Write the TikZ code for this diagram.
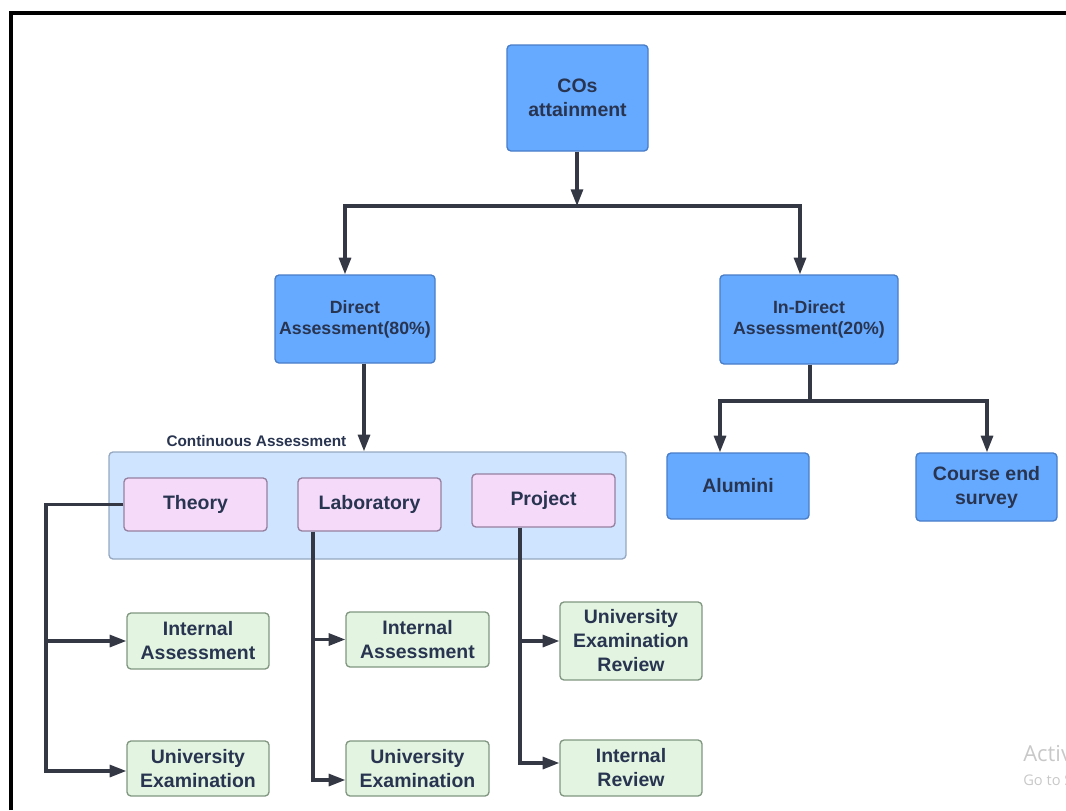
\documentclass[tikz,border=0pt]{standalone}
\usepackage{fontspec}
\setmainfont{Liberation Sans}
\newfontfamily\wmfont{Open Sans}
\usetikzlibrary{arrows.meta,calc}

\definecolor{txt}{RGB}{40,52,80}
\definecolor{wire}{RGB}{52,56,68}
\definecolor{bluefill}{RGB}{102,170,255}
\definecolor{blueedge}{RGB}{72,125,200}
\definecolor{contfill}{RGB}{207,228,255}
\definecolor{contedge}{RGB}{150,168,192}
\definecolor{pinkfill}{RGB}{245,218,250}
\definecolor{pinkedge}{RGB}{150,128,160}
\definecolor{greenfill}{RGB}{227,245,225}
\definecolor{greenedge}{RGB}{128,150,128}
\definecolor{wmgray}{RGB}{200,200,200}

\tikzset{
  box/.style={rectangle, rounded corners=3pt, line width=1pt, inner sep=0pt,
              align=center, text=txt},
  wh/.style 2 args={minimum width=#1*0.75pt, minimum height=#2*0.75pt},
  bigtext/.style={font=\bfseries\fontsize{14.6}{18}\selectfont},
  midtext/.style={font=\bfseries\fontsize{13.3}{15.8}\selectfont},
  bluebox/.style={box, draw=blueedge, fill=bluefill},
  pinkbox/.style={box, bigtext, draw=pinkedge, fill=pinkfill},
  greenbox/.style={box, bigtext, draw=greenedge, fill=greenfill},
  contbox/.style={box, draw=contedge, fill=contfill},
  wireline/.style={draw=wire, line width=2.3pt, line join=miter},
  arr/.style={wireline, -{Triangle[length=12.5pt,width=9pt]}},
}

\begin{document}
\begin{tikzpicture}[x=0.75pt,y=-0.75pt]
\useasboundingbox (0,0) rectangle (1066,810);

% outer frame
\draw[line width=3pt] (10.5,810) -- (10.5,12.5) -- (1066,12.5);

% top level
\node[bluebox, bigtext, wh={141}{106}] (cos) at (577.5,98) {COs\\attainment};
\node[bluebox, midtext, wh={160}{88}] (direct) at (355,319) {Direct\\Assessment(80\%)};
\node[bluebox, midtext, wh={178}{89}] (indirect) at (809,319.5) {In-Direct\\Assessment(20\%)};

% indirect children
\node[bluebox, bigtext, wh={142}{66}] (alum) at (738,486) {Alumini};
\node[bluebox, bigtext, wh={141}{68}] (ces) at (986.5,487) {Course end\\survey};

% continuous assessment group
\node[contbox, wh={517}{107}] (cont) at (367.5,505.5) {};
\node[anchor=east, text=txt, font=\bfseries\fontsize{11.5}{13}\selectfont] (contlbl) at (351,441) {Continuous Assessment};
\node[pinkbox, wh={143}{53}] (theory) at (195.5,504.5) {Theory};
\node[pinkbox, wh={143}{53}] (lab) at (369.5,504.5) {Laboratory};
\node[pinkbox, wh={143}{53}] (proj) at (543.5,500.5) {Project};

% leaf boxes
\node[greenbox, wh={142}{56}] (ia1) at (198,641) {Internal\\Assessment};
\node[greenbox, wh={142}{55}] (ue1) at (198,768.5) {University\\Examination};
\node[greenbox, wh={143}{55}] (ia2) at (417.5,639.5) {Internal\\Assessment};
\node[greenbox, wh={143}{55}] (ue2) at (417.5,768.5) {University\\Examination};
\node[greenbox, wh={142}{78}] (uer) at (631,641) {University\\Examination\\Review};
\node[greenbox, wh={142}{56}] (ir) at (631,768) {Internal\\Review};

% junction points
\coordinate (j1) at (577,206);
\coordinate (jl) at (345,206);
\coordinate (jr) at (800,206);
\coordinate (dx) at (364,400);
\coordinate (ib) at (810,401);
\coordinate (ab) at (720,401);
\coordinate (cb) at (987,401);
\coordinate (tb) at (46,771);
\coordinate (lb) at (313,780);
\coordinate (pb) at (520,763);

% connectors
\draw[arr] (cos.south -| j1) -- (j1);
\draw[arr] (j1) -| (direct.north -| jl);
\draw[arr] (j1) -| (indirect.north -| jr);

\draw[arr] (direct.south -| dx) -- (cont.north -| dx);

\draw[arr] (indirect.south -| ib) -- (ib) -| (alum.north -| ab);
\draw[arr] (ib) -| (ces.north -| cb);

\draw[arr] (theory.west) -| (tb) -- (ue1.west |- tb);
\draw[arr] (tb |- ia1.west) -- (ia1.west);

\draw[arr] (lab.south -| lb) -- (lb) -- (ue2.west |- lb);
\draw[arr] (lb |- ia2.west) -- (ia2.west);

\draw[arr] (proj.south -| pb) -- (pb) -- (ir.west |- pb);
\draw[arr] (pb |- uer.west) -- (uer.west);

% system watermark, cut at the right edge
\begin{scope}
\clip (900,720) rectangle (1066,810);
\node[anchor=base west, text=wmgray, font=\wmfont\fontsize{16.5}{18}\selectfont, inner sep=0pt] (wm1) at (1023,761) {Activate Windows};
\node[anchor=base west, text=wmgray, font=\wmfont\fontsize{11}{13}\selectfont, inner sep=0pt] (wm2) at (1023,785) {Go to Settings to activate Windows.};
\end{scope}
\end{tikzpicture}
\end{document}
